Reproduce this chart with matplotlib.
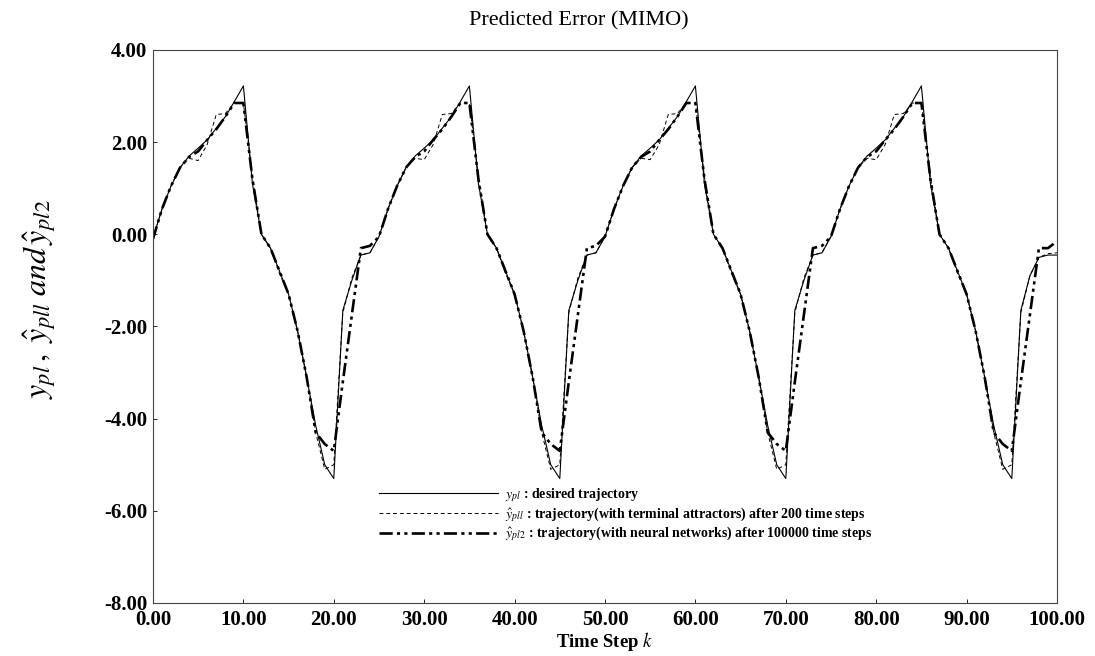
import matplotlib
matplotlib.use('Agg')
import matplotlib.pyplot as plt
import numpy as np

# %% Data (one row per 25-step cycle)
k = np.arange(0, 101)

# y_p1 : desired trajectory
y_p1 = [
    -0.08, 0.55, 1.05, 1.45, 1.70, 1.87, 2.05, 2.30, 2.55, 2.88, 3.22, 1.10, 0.00, -0.30, -0.80, -1.30, -2.10, -3.10, -4.15, -5.00, -5.30, -1.65, -1.00, -0.45, -0.40,
    -0.05, 0.55, 1.05, 1.45, 1.70, 1.87, 2.05, 2.30, 2.55, 2.88, 3.22, 1.10, 0.00, -0.30, -0.80, -1.30, -2.10, -3.10, -4.15, -5.00, -5.30, -1.65, -1.00, -0.45, -0.40,
    -0.05, 0.55, 1.05, 1.45, 1.70, 1.87, 2.05, 2.30, 2.55, 2.88, 3.22, 1.10, 0.00, -0.30, -0.80, -1.30, -2.10, -3.10, -4.15, -5.00, -5.30, -1.65, -1.00, -0.45, -0.40,
    -0.05, 0.55, 1.05, 1.45, 1.70, 1.87, 2.05, 2.30, 2.55, 2.88, 3.22, 1.10, 0.00, -0.30, -0.80, -1.30, -2.10, -3.10, -4.15, -5.00, -5.30, -1.65, -0.90, -0.50, -0.45,
    -0.45,
]

# y_p11 : terminal attractors, after 200 time steps
y_p11 = [
    -0.08, 0.55, 1.05, 1.45, 1.65, 1.60, 1.95, 2.60, 2.62, 2.85, 2.85, 1.25, 0.00, -0.30, -0.85, -1.30, -2.10, -3.10, -4.30, -5.10, -5.00, -1.70, -0.95, -0.45, -0.40,
    -0.05, 0.55, 1.05, 1.45, 1.65, 1.62, 1.95, 2.60, 2.62, 2.85, 2.85, 1.25, 0.00, -0.30, -0.85, -1.30, -2.10, -3.10, -4.30, -5.10, -5.00, -1.70, -0.95, -0.45, -0.40,
    -0.05, 0.55, 1.05, 1.45, 1.65, 1.62, 1.95, 2.60, 2.62, 2.85, 2.85, 1.25, 0.00, -0.30, -0.85, -1.30, -2.10, -3.10, -4.30, -5.10, -5.00, -1.70, -0.95, -0.45, -0.40,
    -0.05, 0.55, 1.05, 1.45, 1.65, 1.62, 1.95, 2.60, 2.62, 2.85, 2.85, 1.25, 0.00, -0.30, -0.85, -1.30, -2.10, -3.10, -4.30, -5.10, -5.00, -1.70, -0.90, -0.50, -0.42,
    -0.40,
]

# y_p12 : neural networks, after 100000 time steps
y_p12 = [
    -0.10, 0.55, 1.05, 1.45, 1.68, 1.80, 2.05, 2.28, 2.55, 2.85, 2.85, 1.20, 0.00, -0.30, -0.80, -1.30, -2.10, -3.10, -4.30, -4.55, -4.70, -3.20, -1.75, -0.30, -0.25,
    -0.05, 0.55, 1.05, 1.45, 1.68, 1.80, 2.05, 2.28, 2.55, 2.85, 2.85, 1.20, 0.00, -0.30, -0.80, -1.30, -2.10, -3.10, -4.30, -4.55, -4.70, -3.20, -1.75, -0.30, -0.25,
    -0.05, 0.55, 1.05, 1.45, 1.68, 1.80, 2.05, 2.28, 2.55, 2.85, 2.85, 1.20, 0.00, -0.30, -0.80, -1.30, -2.10, -3.10, -4.30, -4.55, -4.70, -3.20, -1.75, -0.30, -0.25,
    -0.05, 0.55, 1.05, 1.45, 1.68, 1.80, 2.05, 2.28, 2.55, 2.85, 2.85, 1.20, 0.00, -0.30, -0.80, -1.30, -2.10, -3.10, -4.30, -4.55, -4.70, -3.20, -1.75, -0.30, -0.30,
    -0.15,
]

labels = [r'$y_{pl}$ : desired trajectory',
          r'$\hat{y}_{pll}$ : trajectory(with terminal attractors) after 200 time steps',
          r'$\hat{y}_{pl2}$ : trajectory(with neural networks) after 100000 time steps']

xticks = np.arange(0, 101, 10)
yticks = np.arange(-8, 4.1, 2)

# %% Style
plt.rcParams['font.family'] = ['Liberation Serif', 'DejaVu Serif']
plt.rcParams['mathtext.fontset'] = 'stix'

fig = plt.figure(figsize=(10.95, 6.56), dpi=100)
ax = fig.add_axes([0.1397, 0.0808, 0.8256, 0.8430])

ax.plot(k, y_p1, color='black', lw=0.8, label=labels[0])
ax.plot(k, y_p11, color='black', lw=0.7, dashes=(4, 3), label=labels[1])
ax.plot(k, y_p12, color='black', lw=1.9, dashes=(5, 1.6, 1.2, 1.6, 1.2, 1.6), label=labels[2])

ax.set_xlim(0, 100)
ax.set_ylim(-8, 4)
ax.set_xticks(xticks)
ax.set_yticks(yticks)
ax.set_xticklabels(['%.2f' % v for v in xticks], fontsize=15, fontweight='bold')
ax.set_yticklabels(['%.2f' % v for v in yticks], fontsize=15, fontweight='bold')
ax.tick_params(axis='y', direction='in', length=3, width=0.6, pad=4)
ax.tick_params(axis='x', direction='in', length=3, width=0.6, pad=5)
for sp in ax.spines.values():
    sp.set_linewidth(0.8)
    sp.set_color('#444444')

ax.set_title('Predicted Error (MIMO)', fontsize=16, pad=18, x=0.471)
ax.set_xlabel(r'Time Step $\mathbf{\mathit{k}}$', fontsize=13.5, fontweight='bold', labelpad=0)
ax.set_ylabel(r'$y_{pl}\,,\;\hat{y}_{pll}\;and\,\hat{y}_{pl2}$', fontsize=23)
ax.yaxis.set_label_coords(-0.105, 0.55)

leg = ax.legend(loc='lower left', bbox_to_anchor=(0.236, 0.085), frameon=False,
                handlelength=8.6, handletextpad=0.5, labelspacing=0.1,
                prop={'size': 10, 'weight': 'bold'})

fig.savefig('out.png', dpi=100)
